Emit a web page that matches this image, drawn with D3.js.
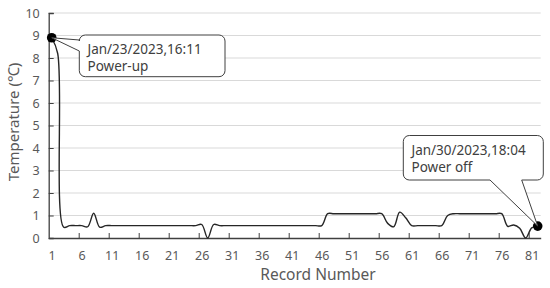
<!DOCTYPE html>
<html><head><meta charset="utf-8">
<script src="https://cdn.jsdelivr.net/npm/d3@7"></script>
<style>
body{margin:0;background:#fff;}
text{font-family:"Noto Sans","Open Sans",sans-serif;}
</style></head>
<body><svg id="c" width="550" height="288"></svg>
<script>
const records = d3.range(1, 83);
const temps = [
 8.9, 8.2, 0.48, 0.55, 0.55, 0.55, 0.5, 1.1, 0.48, 0.55,
 0.55, 0.55, 0.55, 0.55, 0.55, 0.55, 0.55, 0.55, 0.55, 0.55,
 0.55, 0.55, 0.55, 0.55, 0.55, 0.6, 0, 0.6, 0.55, 0.55,
 0.55, 0.55, 0.55, 0.55, 0.55, 0.55, 0.55, 0.55, 0.55, 0.55,
 0.55, 0.55, 0.55, 0.55, 0.55, 0.55, 1.08, 1.08, 1.08, 1.08,
 1.08, 1.08, 1.08, 1.08, 1.08, 1.08, 0.65, 0.5, 1.15, 0.9,
 0.55, 0.55, 0.55, 0.55, 0.55, 0.55, 1.0, 1.08, 1.08, 1.08,
 1.08, 1.08, 1.08, 1.08, 1.08, 1.08, 0.52, 0.58, 0.43, 0,
 0.45, 0.53
];
const xLabels = d3.range(1, 82, 5);
const yTicks = d3.range(0, 11, 1);
const notes = [
 {rec: 1, lines: ["Jan/23/2023,16:11", "Power-up"]},
 {rec: 82, lines: ["Jan/30/2023,18:04", "Power off"]}
];

const svg = d3.select("#c");
const L = 48.7, R = 540.7, T = 13, B = 238;
const x = d3.scaleLinear().domain([0.5, 82.5]).range([L, R]);
const y = d3.scaleLinear().domain([0, 10]).range([B, T]);
const axisCol = "#404040", txtCol = "#595959";

// gridlines
svg.append("g").selectAll("line").data(yTicks.filter(d => d > 0)).join("line")
  .attr("x1", L).attr("x2", R).attr("y1", d => y(d)).attr("y2", d => y(d))
  .attr("stroke", "#d9d9d9").attr("stroke-width", 1);

// y axis
const ya = svg.append("g").attr("transform", `translate(${L},0)`)
  .call(d3.axisLeft(y).tickValues(yTicks).tickSize(-5).tickPadding(9));
ya.select(".domain").attr("stroke", axisCol).attr("stroke-width", 1.3);
ya.selectAll(".tick line").attr("stroke", axisCol);
ya.selectAll("text").attr("fill", txtCol).style("font-size", "12.5px");

// x axis labels
const xa = svg.append("g").attr("transform", `translate(0,${B})`)
  .call(d3.axisBottom(x).tickValues(xLabels).tickSize(0).tickPadding(13).tickFormat(d3.format("d")));
xa.select(".domain").attr("stroke", axisCol).attr("stroke-width", 1.3);
xa.selectAll("text").attr("fill", txtCol).style("font-size", "12.5px");
// x tick marks (between categories)
const xt = svg.append("g").attr("transform", `translate(0,${B})`)
  .call(d3.axisBottom(x).tickValues(xLabels.slice(1).map(d => d - 0.5)).tickSize(-5).tickFormat(""));
xt.select(".domain").remove();
xt.selectAll(".tick line").attr("stroke", axisCol);

// line
const line = d3.line().x((d, i) => x(records[i])).y(d => y(d)).curve(d3.curveCatmullRom.alpha(0.5));
svg.append("path").datum(temps).attr("d", line)
  .attr("fill", "none").attr("stroke", "#262626").attr("stroke-width", 1.4);

// axis titles
svg.append("text").attr("x", 318).attr("y", 280).attr("text-anchor", "middle")
  .attr("fill", txtCol).style("font-size", "15.5px").text("Record Number");
svg.append("text").attr("transform", "translate(19,122) rotate(-90)").attr("text-anchor", "middle")
  .attr("fill", txtCol).style("font-size", "15px").text("Temperature (℃)");

// callouts
function roundRectPath(x0, y0, x1, y1, r, wedge) {
  const p = d3.path();
  p.moveTo(x0 + r, y0);
  p.lineTo(x1 - r, y0); p.arcTo(x1, y0, x1, y0 + r, r);
  p.lineTo(x1, y1 - r); p.arcTo(x1, y1, x1 - r, y1, r);
  if (wedge.side === "bottom") { p.lineTo(wedge.b, y1); p.lineTo(wedge.tx, wedge.ty); p.lineTo(wedge.a, y1); }
  p.lineTo(x0 + r, y1); p.arcTo(x0, y1, x0, y1 - r, r);
  if (wedge.side === "left") { p.lineTo(x0, wedge.b); p.lineTo(wedge.tx, wedge.ty); p.lineTo(x0, wedge.a); }
  p.lineTo(x0, y0 + r); p.arcTo(x0, y0, x0 + r, y0, r);
  p.closePath();
  return p.toString();
}
const boxes = [
  {x0: 79.3, y0: 35, x1: 225, y1: 76.7, wedge: {side: "left", a: 40, b: 51}, tx: 87.5, ty: 54},
  {x0: 403.3, y0: 135.5, x1: 543.3, y1: 180, wedge: {side: "bottom", a: 490, b: 521.7}, tx: 411.5, ty: 155}
];
notes.forEach((n, i) => {
  const px = x(n.rec), py = y(temps[n.rec - 1]);
  const b = boxes[i];
  svg.append("circle").attr("cx", px).attr("cy", py).attr("r", 4.8).attr("fill", "#000");
  svg.append("path").attr("d", roundRectPath(b.x0, b.y0, b.x1, b.y1, 6, Object.assign({}, b.wedge, {tx: px, ty: py})))
    .attr("fill", "#fff").attr("stroke", axisCol).attr("stroke-width", 1);
  n.lines.forEach((s, j) => {
    svg.append("text").attr("x", b.tx).attr("y", b.ty + j * 17).attr("fill", "#404040")
      .style("font-size", "13.5px").text(s);
  });
});
</script></body></html>
